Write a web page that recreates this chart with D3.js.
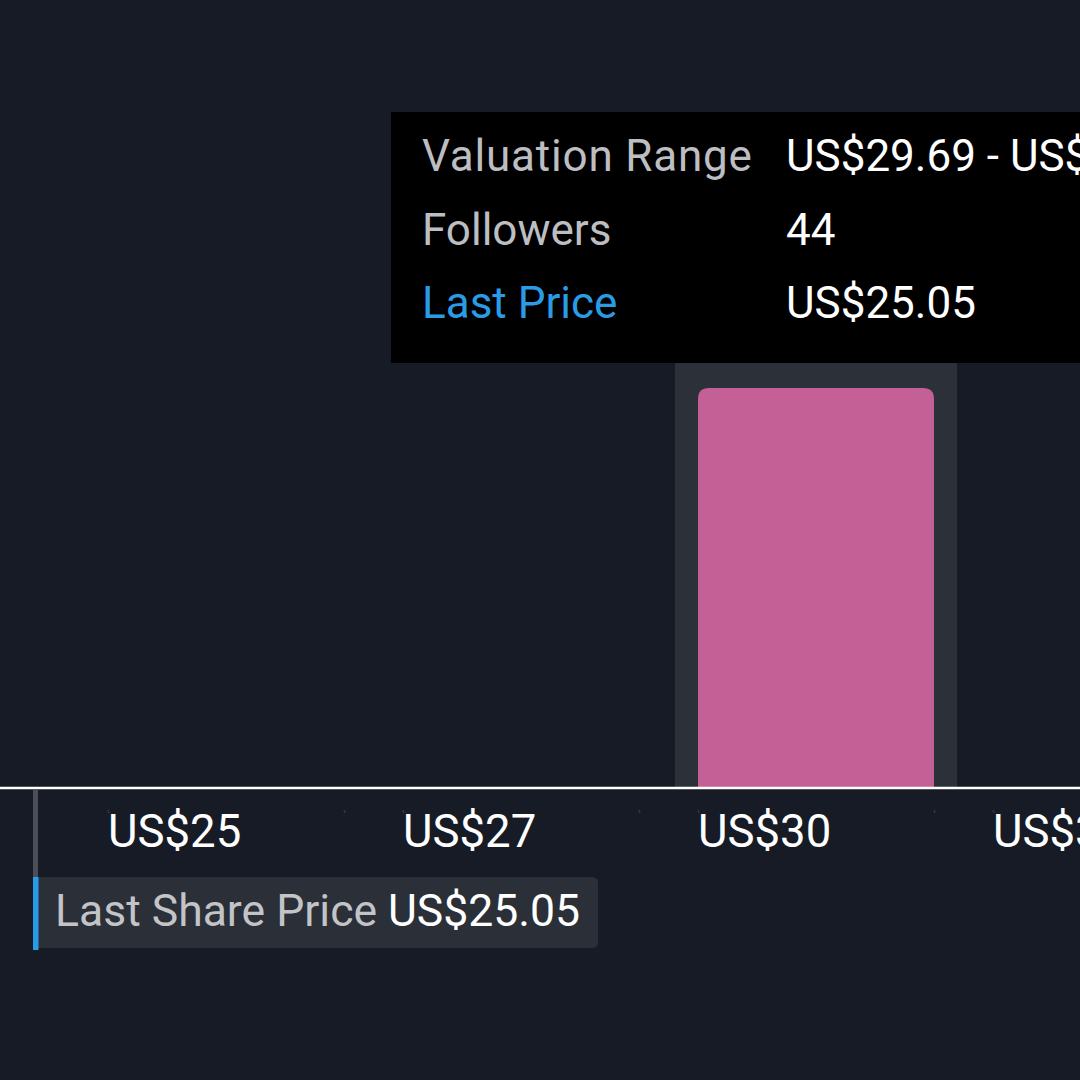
<!DOCTYPE html>
<html>
<head>
<meta charset="utf-8">
<script src="https://cdn.jsdelivr.net/npm/d3@7"></script>
<style>
  html, body { margin: 0; padding: 0; background: #161b25; overflow: hidden; }
  svg { display: block; }
  text { font-family: Roboto, "Noto Sans", sans-serif; }
</style>
</head>
<body>
<svg id="chart" width="1080" height="1080"></svg>
<script>
// ---- data ----
const binStarts = [25.05, 27.37, 29.69, 32.01];
const tickLabels = ["US$25", "US$27", "US$30", "US$32"];
const followers = [0, 0, 44, 0];
const highlightedBin = 2;
const lastPrice = 25.05;
const tooltipLabels = ["Valuation Range", "Followers", "Last Price"];
const tooltipValues = ["US$29.69 - US$32.01", "44", "US$25.05"];
const markerLabel = "Last Share Price";
const markerValue = "US$25.05";

// ---- layout ----
const W = 1080, H = 1080;
const axisY = 788;
const svg = d3.select("#chart");
svg.append("rect").attr("width", W).attr("height", H).attr("fill", "#161b25");

const x = d3.scaleBand()
  .domain(binStarts)
  .range([35, 1302])
  .paddingInner(0.2)
  .paddingOuter(0.2475)
  .align(0.5);

const y = d3.scaleLinear().domain([0, 44]).range([axisY, 388]);

// highlight column
const hb = binStarts[highlightedBin];
svg.append("rect")
  .attr("x", x(hb) - 23)
  .attr("y", y(d3.max(followers)) - 25)
  .attr("width", x.bandwidth() + 46)
  .attr("height", axisY - (y(d3.max(followers)) - 25))
  .attr("fill", "#2c3039");

// bars with rounded top
const r = 11;
svg.selectAll("path.bar")
  .data(binStarts.map((b, i) => ({ b, v: followers[i] })).filter(d => d.v > 0))
  .join("path")
  .attr("class", "bar")
  .attr("fill", "#c46095")
  .attr("d", d => {
    const x0 = x(d.b), x1 = x0 + x.bandwidth(), y0 = y(d.v), y1 = axisY;
    return `M${x0},${y1}V${y0 + r}Q${x0},${y0} ${x0 + r},${y0}H${x1 - r}Q${x1},${y0} ${x1},${y0 + r}V${y1}Z`;
  });

// axis line
svg.append("line")
  .attr("x1", 0).attr("x2", W)
  .attr("y1", axisY).attr("y2", axisY)
  .attr("stroke", "#ffffff").attr("stroke-width", 2.5);

// faint ticks at bin edges
const tickPos = [];
binStarts.forEach(b => { tickPos.push(x(b)); tickPos.push(x(b) + x.bandwidth()); });
svg.selectAll("line.ftick").data(tickPos).join("line")
  .attr("class", "ftick")
  .attr("x1", d => d).attr("x2", d => d + 1)
  .attr("y1", 810).attr("y2", 813)
  .attr("stroke", "#6a3048").attr("stroke-width", 1.5).attr("opacity", 0.7);

// tick labels (left aligned at bin start)
svg.selectAll("text.tick").data(binStarts).join("text")
  .attr("class", "tick")
  .attr("x", d => x(d))
  .attr("y", 847)
  .attr("fill", "#ffffff")
  .attr("font-size", 45.5)
  .text((d, i) => tickLabels[i]);

// last share price marker
const mx = x.range()[0];
svg.append("line")
  .attr("x1", mx + 0.5).attr("x2", mx + 0.5)
  .attr("y1", axisY + 2).attr("y2", 877)
  .attr("stroke", "#4b4e56").attr("stroke-width", 5);
svg.append("path")
  .attr("d", `M${mx + 3},877H592Q598,877 598,883V942Q598,948 592,948H${mx + 3}Z`)
  .attr("fill", "#2b2f38");
svg.append("rect")
  .attr("x", mx - 2).attr("y", 877).attr("width", 5.5).attr("height", 73)
  .attr("fill", "#2a9ce6");
const mt = svg.append("text").attr("y", 926).attr("font-size", 44.5);
mt.append("tspan").attr("x", 55).attr("fill", "#c3c4c8").text(markerLabel);
mt.append("tspan").attr("x", 388).attr("fill", "#ffffff").text(markerValue);

// tooltip
const tip = svg.append("g");
tip.append("rect")
  .attr("x", 391).attr("y", 112).attr("width", 800).attr("height", 251)
  .attr("fill", "#000000");
const rowY = [171, 245, 318];
tip.selectAll("text.tl").data(tooltipLabels).join("text")
  .attr("class", "tl")
  .attr("x", 422).attr("y", (d, i) => rowY[i])
  .attr("font-size", 44)
  .attr("letter-spacing", (d, i) => i === 0 ? 0.8 : 0)
  .attr("fill", (d, i) => i === 2 ? "#2a9ce6" : "#bdbec2")
  .text(d => d);
tip.selectAll("text.tv").data(tooltipValues).join("text")
  .attr("class", "tv")
  .attr("x", 786).attr("y", (d, i) => rowY[i])
  .attr("font-size", 44)
  .attr("fill", "#ffffff")
  .text(d => d);
</script>
</body>
</html>
